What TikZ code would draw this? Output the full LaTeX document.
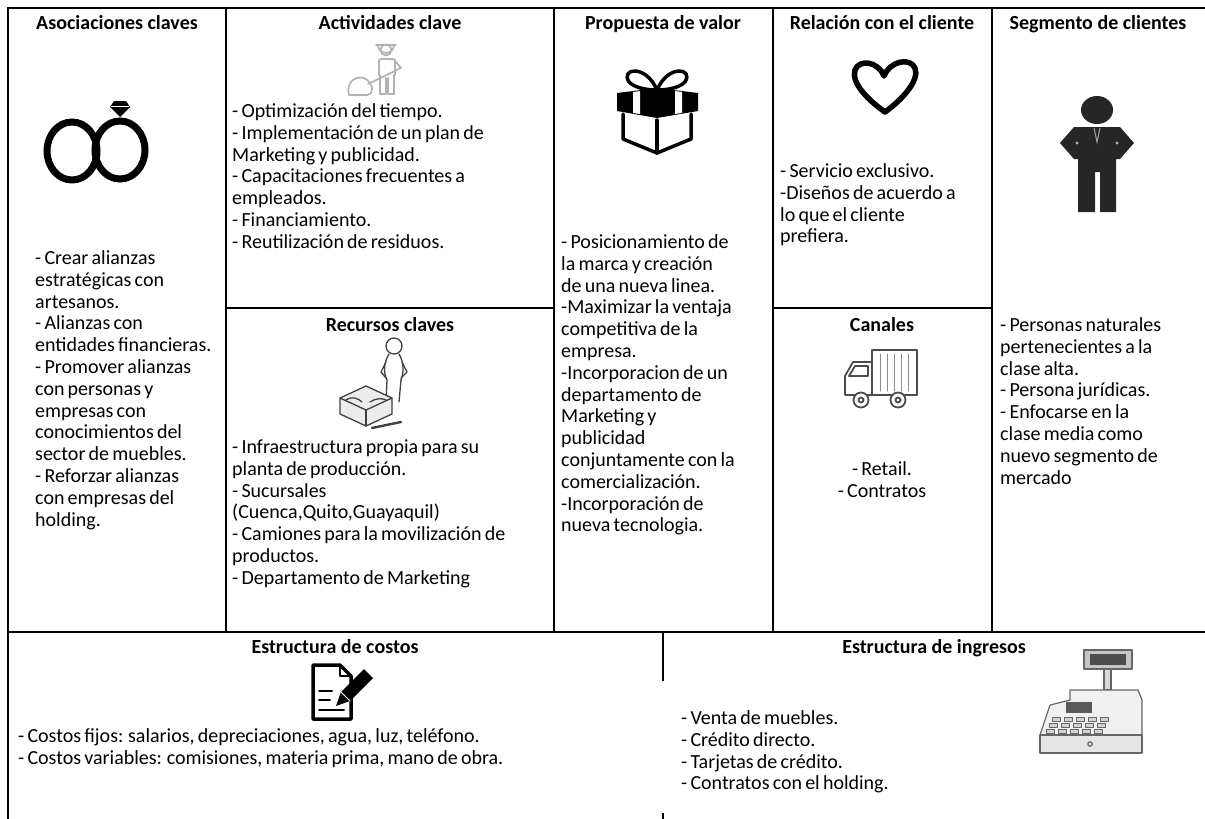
\documentclass[tikz,border=0pt]{standalone}
\usepackage{fontspec}
\setmainfont{Carlito}
\newcommand\bodyfont{\fontsize{20}{21.8}\selectfont\spaceskip=0.16em plus 0.05em}
\newcommand\headfont{\fontsize{20}{21.8}\selectfont\bfseries}
\begin{document}
\begin{tikzpicture}[x=1pt,y=-1pt,
  rule/.style={line width=2.2pt,line cap=rect},
  head/.style={font=\headfont,anchor=base,inner sep=0},
  body/.style={font=\bodyfont,anchor=north west,align=left,inner sep=0},
  bodyc/.style={font=\bodyfont,anchor=north,align=center,inner sep=0},
  ink/.style={line join=round,line cap=round}]
\useasboundingbox (0,0) rectangle (1205,819);

% ---- grid of the canvas ----
\draw[rule] (8,8) -- (1205,8);
\draw[rule] (8,8) -- (8,819);
\draw[rule] (226,8) -- (226,632);
\draw[rule] (554,8) -- (554,632);
\draw[rule] (773,8) -- (773,632);
\draw[rule] (992,8) -- (992,632);
\draw[rule] (226,308) -- (554,308);
\draw[rule] (773,308) -- (992,308);
\draw[rule] (8,632) -- (1205,632);
\draw[rule] (663,632) -- (663,680);
\draw[rule] (663,814) -- (663,819);

% ---- headings ----
\node[head] (h1) at (117,29) {Asociaciones claves};
\node[head] (h2) at (390,29) {Actividades clave};
\node[head] (h3) at (663,29) {Propuesta de valor};
\node[head] (h4) at (882,29) {Relación con el cliente};
\node[head] (h5) at (1098,29) {Segmento de clientes};
\node[head] (h6) at (390,331) {Recursos claves};
\node[head] (h7) at (882,331) {Canales};
\node[head] (h8) at (335,653) {Estructura de costos};
\node[head] (h9) at (934,653) {Estructura de ingresos};

% ---- texts ----
\node[body] (t1) at (35,249) {\strut- Crear alianzas\\estratégicas con\\artesanos.\\- Alianzas con\\entidades financieras.\\- Promover alianzas\\con personas y\\empresas con\\conocimientos del\\sector de muebles.\\- Reforzar alianzas\\con empresas del\\holding.};
\node[body] (t2) at (232,102) {\strut- Optimización del tiempo.\\- Implementación de un plan de\\Marketing y publicidad.\\- Capacitaciones frecuentes a\\empleados.\\- Financiamiento.\\- Reutilización de residuos.};
\node[body] (t3) at (232,438) {\strut- Infraestructura propia para su\\planta de producción.\\- Sucursales\\(Cuenca,Quito,Guayaquil)\\- Camiones para la movilización de\\productos.\\- Departamento de Marketing};
\node[body] (t4) at (561,233) {\strut- Posicionamiento de\\la marca y creación\\de una nueva linea.\\-Maximizar la ventaja\\competitiva de la\\empresa.\\-Incorporacion de un\\departamento de\\Marketing y\\publicidad\\conjuntamente con la\\comercialización.\\-Incorporación de\\nueva tecnologia.};
\node[body] (t5) at (780,162) {\strut- Servicio exclusivo.\\-Diseños de acuerdo a\\lo que el cliente\\prefiera.};
\node[body] (t6) at (1000,316) {\strut- Personas naturales\\pertenecientes a la\\clase alta.\\- Persona jurídicas.\\- Enfocarse en la\\clase media como\\nuevo segmento de\\mercado};
\node[bodyc] (t7) at (882,460) {\strut- Retail.\\- Contratos};
\node[body] (t8) at (18,727) {\strut- Costos fijos: salarios, depreciaciones, agua, luz, teléfono.\\- Costos variables: comisiones, materia prima, mano de obra.};
\node[body] (t9) at (681,709) {\strut- Venta de muebles.\\- Crédito directo.\\- Tarjetas de crédito.\\- Contratos con el holding.};

% ---- rings ----
\draw[line width=7pt] (72,151) ellipse [x radius=25,y radius=29];
\draw[line width=7pt] (120,150) ellipse [x radius=25,y radius=29];
\fill (110,107) -- (114,101) -- (126,101) -- (130,107) -- (120,117) -- cycle;
\draw[white,line width=0.8pt] (111,106) -- (129,106);

% ---- worker with shovel ----
\begin{scope}[ink,draw=gray!60,line width=1.7pt]
  \draw (386,50) circle (5.5);
  \draw (378,45) arc[start angle=180,end angle=0,radius=8];
  \draw (376,45) -- (396,45);
  \draw[rounded corners=2] (379,75) -- (379,59) -- (395,59) -- (395,75);
  \draw (380,75) -- (380,94) -- (386,94) -- (386,78);
  \draw (388,78) -- (388,94) -- (394,94) -- (394,75);
  \draw (395,61) -- (401,68) -- (368,84);
  \draw (349,95) .. controls (345,82) and (357,74) .. (366,79) .. controls (374,85) and (374,94) .. (367,95) -- cycle;
\end{scope}

% ---- gift box ----
\begin{scope}[ink,line width=3.5pt]
  \draw (657,90) .. controls (646,64) and (620,68) .. (629,82) .. controls (636,89) and (650,90) .. (657,90);
  \draw (657,90) .. controls (668,64) and (694,68) .. (685,82) .. controls (678,89) and (664,90) .. (657,90);
  \fill (617,93) -- (657,88) -- (698,93) -- (698,111) -- (657,118) -- (617,111) -- cycle;
  \fill[white] (633,92) -- (640,91) -- (640,114) -- (633,113) -- cycle;
  \fill[white] (675,91) -- (682,92) -- (682,113) -- (675,114) -- cycle;
  \draw (623,114) -- (623,139) -- (657,153) -- (691,139) -- (691,114);
  \draw (657,120) -- (657,153);
\end{scope}

% ---- heart ----
\draw[ink,line width=5.5pt] (885,112) .. controls (868,100) and (851,83) .. (855,70)
  .. controls (859,59) and (878,61) .. (884,76)
  .. controls (890,61) and (910,57) .. (915,68)
  .. controls (920,80) and (902,100) .. (885,112);

% ---- business person ----
\begin{scope}[fill=black!85]
  \fill (1097,110) ellipse [x radius=16,y radius=14];
  \fill (1074,127) -- (1120,127) -- (1134,143) -- (1120,159) -- (1116,159) -- (1116,212)
    -- (1100,212) -- (1100,172) -- (1095,172) -- (1095,212) -- (1078,212) -- (1078,159)
    -- (1074,159) -- (1060,143) -- cycle;
  \fill[gray!60] (1077,143) circle (1.6);
  \fill[gray!60] (1117,143) circle (1.6);
  \draw[gray!70,line width=1pt] (1094,128) -- (1097,142) -- (1100,128);
\end{scope}

% ---- truck ----
\begin{scope}[ink,draw=black!70,line width=1.8pt]
  \draw (872,350) rectangle (917,395);
  \foreach \xx in {880,887,894,901,908} \draw[black!45,line width=1pt] (\xx,354) -- (\xx,391);
  \draw (872,362) -- (853,362) -- (845,376) -- (845,395) -- (872,395);
  \draw (849,376) -- (855,366) -- (868,366) -- (868,376) -- cycle;
  \filldraw[fill=white] (861,400) circle (7.5);
  \filldraw[fill=white] (898,400) circle (7.5);
  \draw (861,400) circle (2.5);
  \draw (898,400) circle (2.5);
\end{scope}

% ---- resources sketch: person beside a sofa ----
\begin{scope}[ink,draw=black!75,line width=1.3pt]
  \draw (394,346) circle (8);
  \draw (389,354) .. controls (384,362) and (383,372) .. (387,380);
  \draw (399,354) .. controls (404,362) and (404,372) .. (401,380);
  \draw (387,380) -- (386,402);
  \draw (401,380) -- (399,402);
  \draw (386,362) -- (381,372) -- (386,378);
  \draw (402,362) -- (407,372) -- (401,378);
  \draw[fill=gray!15] (340,398) -- (366,386) -- (392,398) -- (392,414) -- (366,426) -- (340,414) -- cycle;
  \draw (340,398) -- (366,410) -- (392,398);
  \draw (366,410) -- (366,426);
  \draw (346,400) .. controls (352,396) and (358,398) .. (362,402);
  \draw (370,402) .. controls (376,398) and (382,398) .. (386,400);
  \draw[line width=2.4pt] (372,428) -- (401,422);
\end{scope}

% ---- cost sheet with pencil ----
\begin{scope}[ink,line width=3.5pt]
  \draw (313,665) -- (340,665) -- (351,676) -- (351,719) -- (313,719) -- cycle;
  \draw[line width=2pt] (340,666) -- (340,676) -- (350,676);
  \draw[line width=2pt] (319,691) -- (332,691);
  \draw[line width=2pt] (319,700) -- (330,700);
  \draw[line width=2pt] (319,710) -- (344,710);
  \fill (336,706) -- (341,692) -- (364,669) -- (373,678) -- (350,701) -- cycle;
  \draw[white,line width=1pt] (341,692) -- (350,701);
\end{scope}

% ---- cash register ----
\begin{scope}[ink,draw=black!60,line width=1.2pt]
  \filldraw[fill=gray!45] (1084,650) rectangle (1132,669);
  \fill[black!70] (1090,654) rectangle (1126,665);
  \filldraw[fill=gray!30] (1104,669) rectangle (1111,690);
  \filldraw[fill=gray!12] (1070,690) -- (1138,690) -- (1142,700) -- (1142,735) -- (1040,735) -- (1050,705) -- (1070,700) -- cycle;
  \fill[black!65] (1066,702) rectangle (1092,713);
  \foreach \kx in {0,1,2,3,4} \foreach \ky in {0,1,2}
    \filldraw[fill=gray!35,line width=0.6pt] ({1052+\kx*12+\ky*-3},{717+\ky*6}) rectangle ++(8,4);
  \filldraw[fill=gray!20] (1040,735) rectangle (1142,753);
  \draw (1090,744) circle (2.2);
\end{scope}
\end{tikzpicture}
\end{document}
